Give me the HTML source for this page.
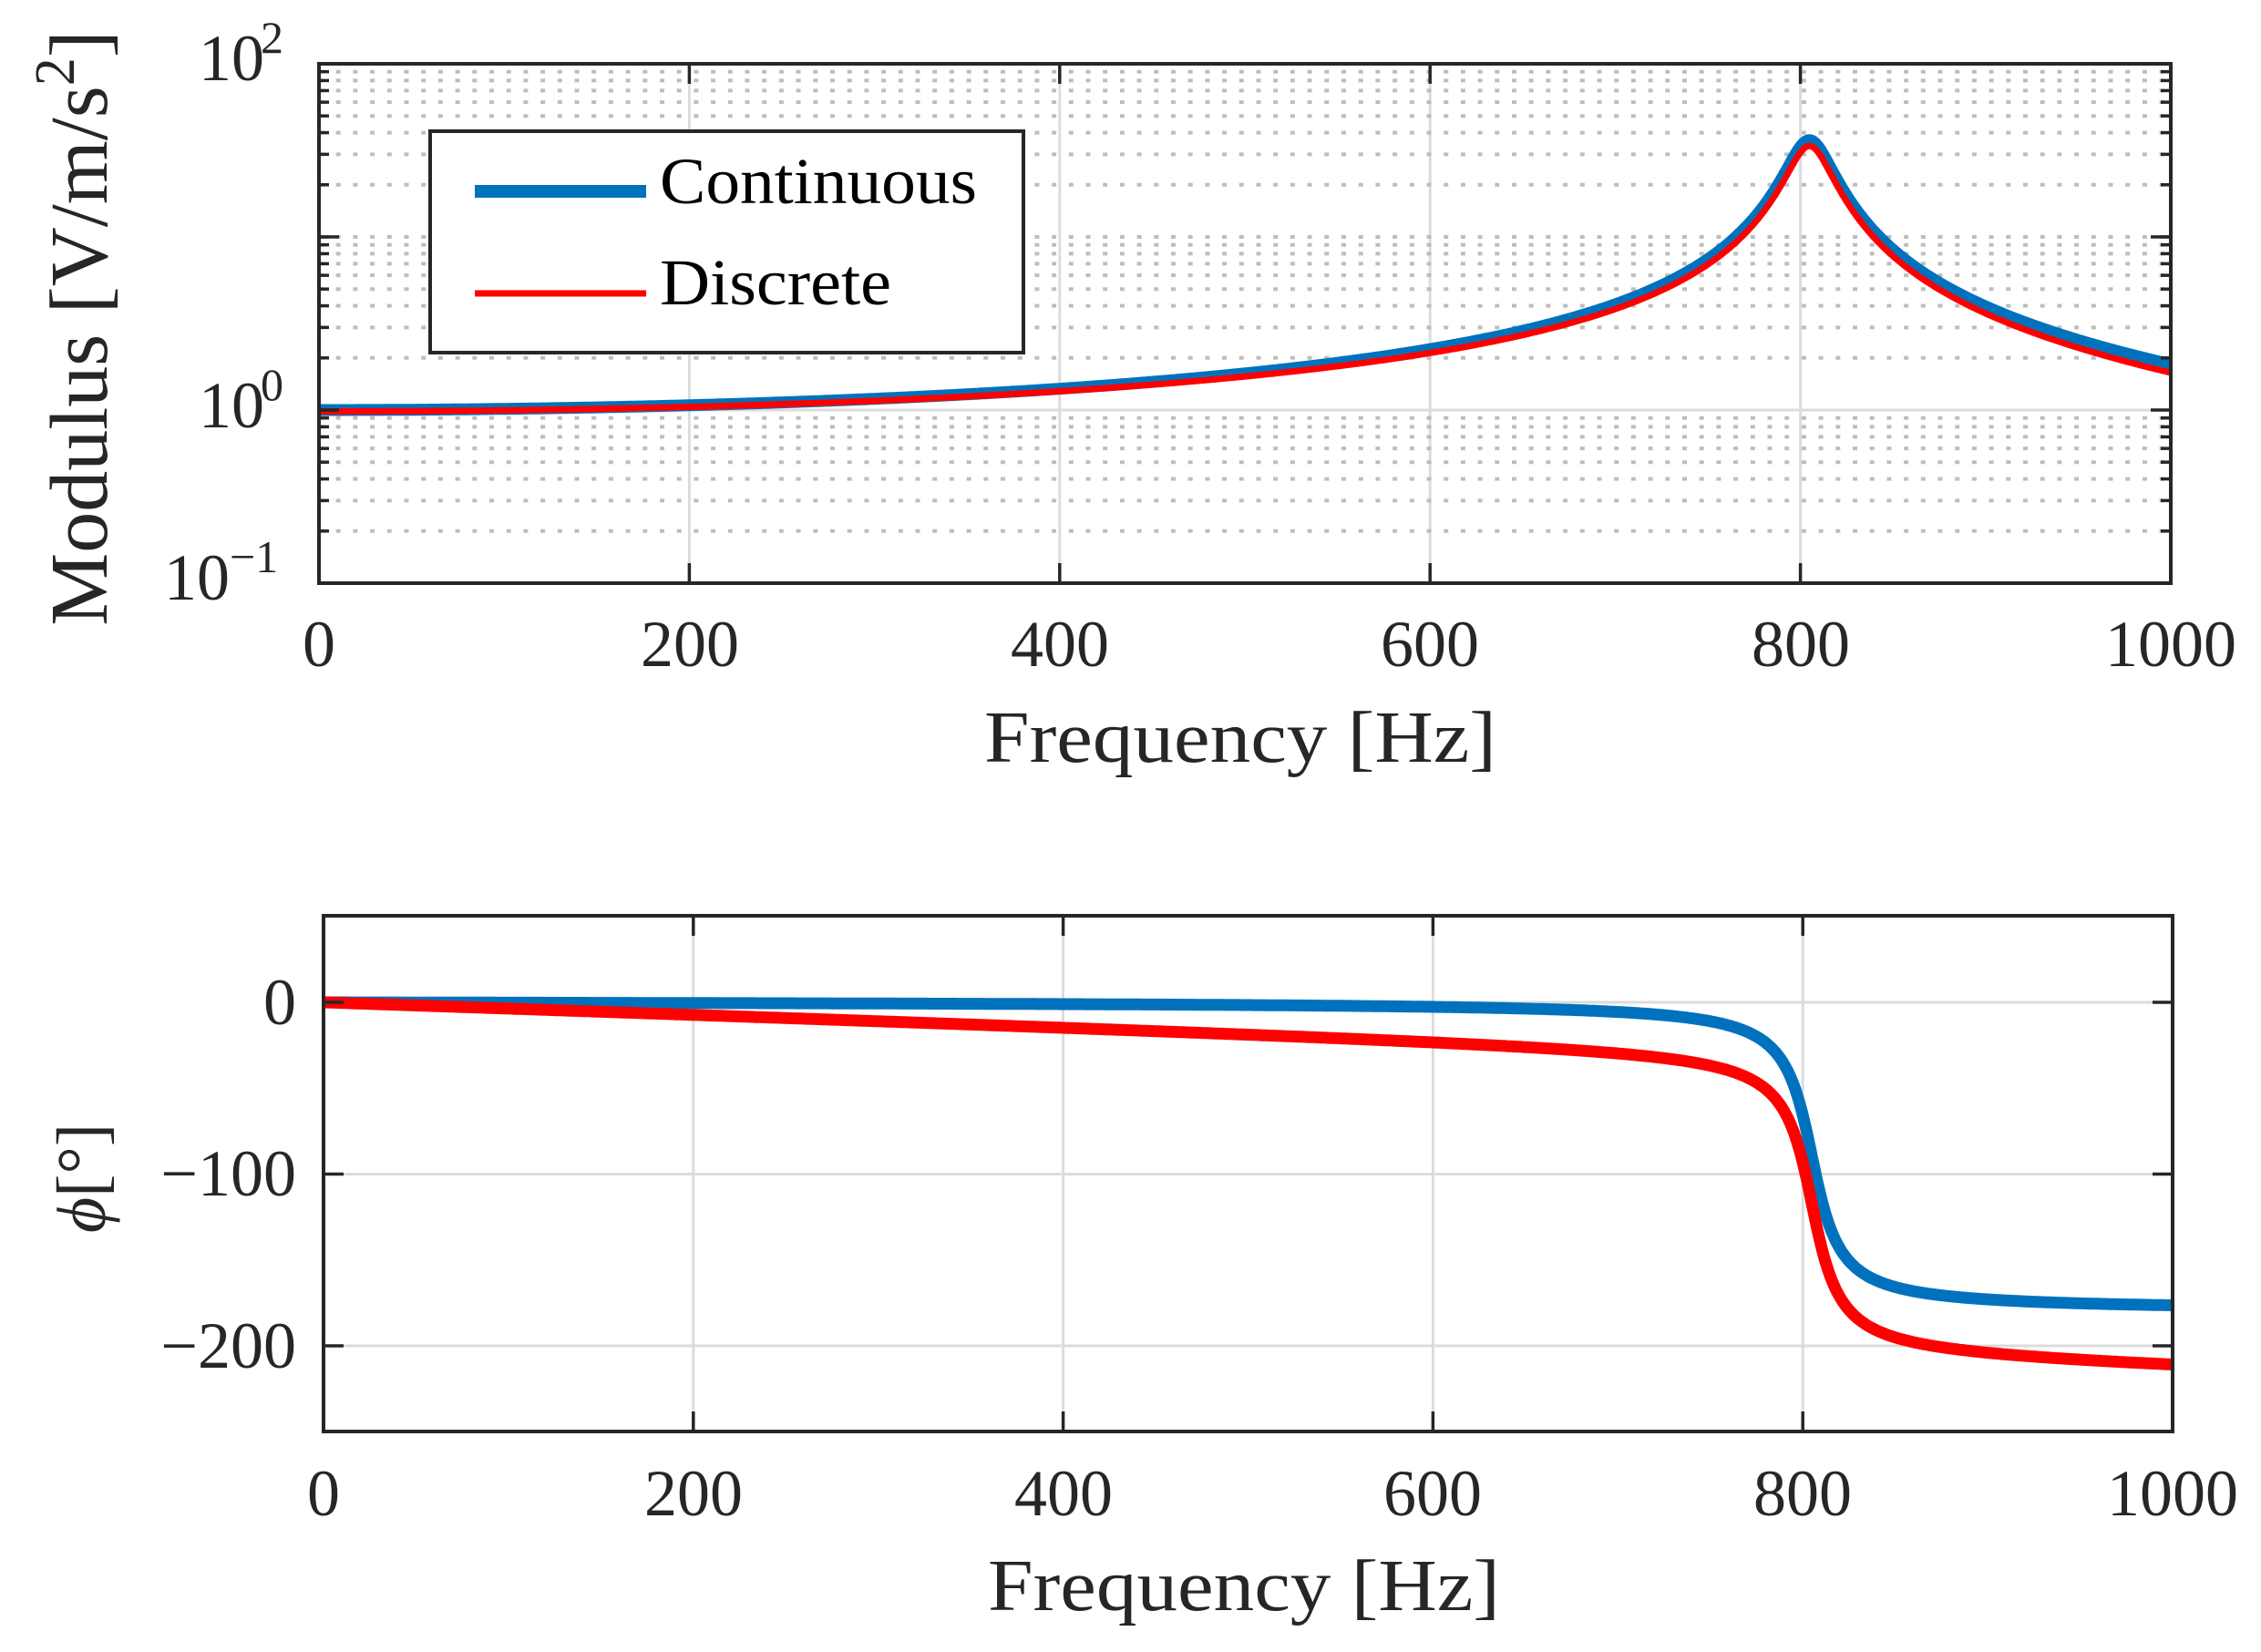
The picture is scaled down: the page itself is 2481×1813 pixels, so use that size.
<!DOCTYPE html>
<html><head><meta charset="utf-8"><style>
html,body{margin:0;padding:0;background:#fff;}
svg{display:block;}
text{font-family:"Liberation Serif",serif;fill:#262626;}
</style></head><body>
<svg id="s" width="2481" height="1813" xmlns="http://www.w3.org/2000/svg">
<rect width="2481" height="1813" fill="#fff"/>
<g id="grid"></g>
<g id="curves"></g>
<g id="axes"></g>
<!-- legend -->
<rect x="472" y="144" width="651" height="243" fill="#fff" stroke="#262626" stroke-width="4"/>
<line x1="521" y1="210" x2="709" y2="210" stroke="#0072BD" stroke-width="14"/>
<line x1="521" y1="322" x2="709" y2="322" stroke="#FF0000" stroke-width="7"/>
<text x="724" y="223" font-size="72" textLength="348" lengthAdjust="spacingAndGlyphs" style="fill:#000">Continuous</text>
<text x="724" y="334" font-size="72" textLength="254" lengthAdjust="spacingAndGlyphs" style="fill:#000">Discrete</text>
<!-- top y labels -->
<text x="218" y="88" font-size="72">10</text><text x="286" y="58" font-size="50">2</text>
<text x="218" y="469" font-size="72">10</text><text x="286" y="439" font-size="50">0</text>
<text x="180" y="658" font-size="72">10</text><text x="252" y="628" font-size="50">−1</text>
<!-- top x labels -->
<g font-size="72" text-anchor="middle">
<text x="350" y="731">0</text><text x="757" y="731">200</text><text x="1163" y="731">400</text>
<text x="1569" y="731">600</text><text x="1976" y="731">800</text><text x="2382" y="731">1000</text>
<text x="355" y="1663">0</text><text x="761" y="1663">200</text><text x="1167" y="1663">400</text>
<text x="1572" y="1663">600</text><text x="1978" y="1663">800</text><text x="2384" y="1663">1000</text>
</g>
<g font-size="72" text-anchor="end">
<text x="325" y="1124">0</text><text x="325" y="1312">−100</text><text x="325" y="1501">−200</text>
</g>
<text x="1080" y="836" font-size="80" textLength="562" lengthAdjust="spacingAndGlyphs">Frequency [Hz]</text>
<text x="1084" y="1767" font-size="80" textLength="562" lengthAdjust="spacingAndGlyphs">Frequency [Hz]</text>
<text transform="translate(117,360) rotate(-90)" font-size="90" text-anchor="middle">Modulus [V/m/s<tspan font-size="62" dy="-36">2</tspan><tspan dy="36">]</tspan></text>
<text transform="translate(115,1293) rotate(-90)" font-size="76" text-anchor="middle"><tspan font-style="italic">ϕ</tspan>[°]</text>
</svg>
<script>
(function(){
var NS="http://www.w3.org/2000/svg";
function el(p,t,a){var e=document.createElementNS(NS,t);for(var k in a)e.setAttribute(k,a[k]);p.appendChild(e);return e;}
var grid=document.getElementById('grid'),cur=document.getElementById('curves'),ax=document.getElementById('axes');
var L1=350,R1=2382,T1=70,B1=640;
function X1(f){return L1+(R1-L1)*f/1000;}
function Y1(v){return 450-190*Math.log10(v);}
var L2=355,R2=2384,T2=1005,B2=1571;
function X2(f){return L2+(R2-L2)*f/1000;}
function Y2(p){return 1100-1.885*p;}
for(var i=1;i<5;i++){el(grid,'line',{x1:X1(i*200),y1:T1,x2:X1(i*200),y2:B1,stroke:'#dcdcdc','stroke-width':3});}
el(grid,'line',{x1:L1,y1:450,x2:R1,y2:450,stroke:'#dcdcdc','stroke-width':3});
var minors=[];
for(var d=-1;d<2;d++){for(var m=2;m<=9;m++)minors.push(Math.pow(10,d)*m);}
minors.push(10);
minors.forEach(function(v){var y=Y1(v);
 el(grid,'line',{x1:L1,y1:y,x2:R1,y2:y,stroke:'#bdbdbd','stroke-width':4,'stroke-dasharray':'5 13.7'});
 el(ax,'line',{x1:L1,y1:y,x2:L1+11,y2:y,stroke:'#262626','stroke-width':3.5});
 el(ax,'line',{x1:R1,y1:y,x2:R1-11,y2:y,stroke:'#262626','stroke-width':3.5});
});
[100,10,1,0.1].forEach(function(v){var y=Y1(v);
 el(ax,'line',{x1:L1,y1:y,x2:L1+22,y2:y,stroke:'#262626','stroke-width':3.5});
 el(ax,'line',{x1:R1,y1:y,x2:R1-22,y2:y,stroke:'#262626','stroke-width':3.5});});
for(var i=1;i<5;i++){el(ax,'line',{x1:X1(i*200),y1:T1,x2:X1(i*200),y2:T1+22,stroke:'#262626','stroke-width':3.5});
 el(ax,'line',{x1:X1(i*200),y1:B1,x2:X1(i*200),y2:B1-22,stroke:'#262626','stroke-width':3.5});}
el(ax,'rect',{x:L1,y:T1,width:R1-L1,height:B1-T1,fill:'none',stroke:'#262626','stroke-width':4});
for(var i=1;i<5;i++){el(grid,'line',{x1:X2(i*200),y1:T2,x2:X2(i*200),y2:B2,stroke:'#dcdcdc','stroke-width':3});
 el(ax,'line',{x1:X2(i*200),y1:T2,x2:X2(i*200),y2:T2+22,stroke:'#262626','stroke-width':3.5});
 el(ax,'line',{x1:X2(i*200),y1:B2,x2:X2(i*200),y2:B2-22,stroke:'#262626','stroke-width':3.5});}
[0,-100,-200].forEach(function(p){var y=Y2(p);
 el(grid,'line',{x1:L2,y1:y,x2:R2,y2:y,stroke:'#dcdcdc','stroke-width':3});
 el(ax,'line',{x1:L2,y1:y,x2:L2+22,y2:y,stroke:'#262626','stroke-width':3.5});
 el(ax,'line',{x1:R2,y1:y,x2:R2-22,y2:y,stroke:'#262626','stroke-width':3.5});});
el(ax,'rect',{x:L2,y:T2,width:R2-L2,height:B2-T2,fill:'none',stroke:'#262626','stroke-width':4});
var f0=805,z=0.0138;
var pm1='',pm2='',pp1='',pp2='';
for(var f=0;f<=1000;f+=1){
 var r=f/f0,re=1-r*r,im=2*z*r;
 var mag=1/Math.sqrt(re*re+im*im);
 var ph=-Math.atan2(im,re)*180/Math.PI;
 var mag2=mag*(1-0.09*Math.pow(f/1000,2));
 var ph2=ph-0.0345*f;
 var c=f?'L':'M';
 pm1+=c+X1(f).toFixed(1)+' '+Y1(mag).toFixed(1);
 pm2+=c+X1(f).toFixed(1)+' '+(Y1(mag2)+1.5).toFixed(1);
 pp1+=c+X2(f).toFixed(1)+' '+Y2(ph).toFixed(1);
 pp2+=c+X2(f).toFixed(1)+' '+Y2(ph2).toFixed(1);
}
el(cur,'path',{d:pm1,fill:'none',stroke:'#0072BD','stroke-width':13,'stroke-linejoin':'round'});
el(cur,'path',{d:pm2,fill:'none',stroke:'#FF0000','stroke-width':7,'stroke-linejoin':'round'});
el(cur,'path',{d:pp1,fill:'none',stroke:'#0072BD','stroke-width':13,'stroke-linejoin':'round'});
el(cur,'path',{d:pp2,fill:'none',stroke:'#FF0000','stroke-width':13,'stroke-linejoin':'round'});
})();
</script>
</body></html>
